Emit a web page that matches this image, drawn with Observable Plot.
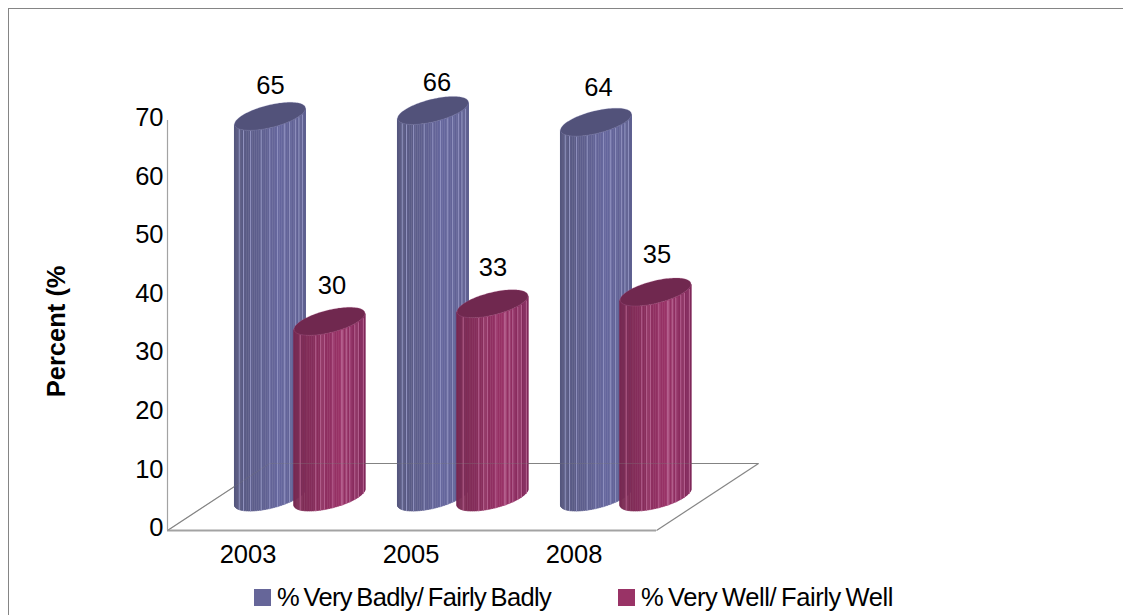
<!DOCTYPE html>
<html><head><meta charset="utf-8">
<script src="https://cdn.jsdelivr.net/npm/d3@7"></script>
<script src="https://cdn.jsdelivr.net/npm/@observablehq/plot@0.6"></script>
<style>
html,body{margin:0;padding:0;background:#fff;overflow:hidden;width:1123px;height:615px}
#wrap{position:relative;width:1123px;height:615px;overflow:hidden;font-family:"Liberation Sans",Arial,sans-serif}
#frame{position:absolute;left:8px;top:8px;width:1200px;height:700px;border:1.5px solid #858585}
#chart{position:absolute;left:0;top:0}
#chart svg{display:block;background:transparent}
#legend{position:absolute;left:0;top:582px;height:30px;width:1123px;font-size:25.5px;letter-spacing:-.65px;word-spacing:-2px;color:#000}
.key{position:absolute;top:0;display:flex;align-items:center;height:30px;white-space:pre}
.sw{width:17px;height:17px;margin-right:6px;display:inline-block}
</style></head>
<body><div id="wrap"><div id="frame"></div><div id="chart"></div><div id="legend"></div></div>
<script>
const years = ["2003", "2005", "2008"];
const seriesNames = ["% Very Badly/ Fairly Badly", "% Very Well/ Fairly Well"];
const veryBadly = [65, 66, 64];
const veryWell = [30, 33, 35];
const yTicks = [0, 10, 20, 30, 40, 50, 60, 70];
const axisTitle = "Percent (%";

// layout and styling of the pseudo-3D scene, in scale units (1 x unit = one category)
const pxX = 1 / 163, pxY = 1 / 5.857;
const seriesOffset = [21.5 * pxX, 81 * pxX];
const rx = 35.5 * pxX, ry = 11.5 * pxY, tilt = 8 * pxY, baseLift = 33 * pxY;
const palettes = [
  {left: "#56577e", mid: "#66679e", right: "#5e5f90", top: "#52527a", line: "#9a9bc8"},
  {left: "#782a52", mid: "#993267", right: "#80285a", top: "#70284f", line: "#c0709c"}
];
const lightLines = [
  [.06, .12, .22, .37, .49, .6, .7, .77, .85, .9, .95],
  [.08, .3, .37, .42, .54, .66, .68, .73, .78, .85, .9, .97]
];
// per-label [sideways, lift] in pixels
const labelNudge = [[[0, 31], [2, 36]], [[3.5, 28], [0, 36]], [[2, 35], [1, 38]]];

const SLICES = 48;
const lower = t => Math.sqrt(Math.max(0, 1 - t * t));
const frac2t = f => 2 * f - 1;
const ease = u => (1 - Math.cos(Math.PI * u)) / 2;
function cylinderMarks(cat, s, value) {
  const pal = palettes[s];
  const cx = cat + seriesOffset[s];
  const bottomC = baseLift, topC = baseLift + value;
  const colour = d3.scaleLinear().domain([0, .65, 1]).range([pal.left, pal.mid, pal.right]);
  const slices = [];
  for (let i = 0; i < SLICES; i++) {
    const a = ease(i / SLICES), b = ease((i + 1) / SLICES), id = i;
    for (const f of [a, (a + b) / 2, b]) {
      const t = frac2t(f);
      slices.push({id, x: cx + t * rx, y1: bottomC + tilt * t - ry * lower(t), y2: topC + tilt * t - ry * lower(t), c: colour((a + b) / 2)});
    }
  }
  const rims = [];
  for (let i = 0; i <= 60; i++) {
    const t = Math.cos(Math.PI * (1 - i / 60));
    rims.push({x: cx + t * rx, y1: topC + tilt * t - ry * lower(t), y2: topC + tilt * t + ry * lower(t)});
  }
  const lines = lightLines[s].map(f => {
    const t = frac2t(f);
    return {x: cx + t * rx, y1: bottomC + tilt * t - ry * lower(t), y2: topC + tilt * t - ry * lower(t)};
  });
  return [
    Plot.areaY(slices, {x: "x", y1: "y1", y2: "y2", z: "id", fill: "c", stroke: "c", strokeWidth: .6}),
    Plot.link(lines, {x1: "x", x2: "x", y1: "y1", y2: "y2", stroke: pal.line, strokeWidth: 1, strokeOpacity: .85}),
    Plot.areaY(rims, {x: "x", y1: "y1", y2: "y2", fill: pal.top, stroke: pal.line, strokeWidth: .4, strokeOpacity: .6})
  ];
}

const floorDepth = 67 * pxY, floorSkew = 102 * pxX;
const xLeft = -81.5 * pxX, xRight = 407.5 * pxX;
const floorEdges = [
  {x1: xLeft, y1: 0, x2: xLeft + floorSkew, y2: floorDepth},
  {x1: xLeft + floorSkew, y1: floorDepth, x2: xRight + floorSkew, y2: floorDepth},
  {x1: xRight + floorSkew, y1: floorDepth, x2: xRight, y2: 0}
];

const labelRows = years.flatMap((yr, i) => [veryBadly[i], veryWell[i]].map((v, s) => ({
  x: i + seriesOffset[s] + labelNudge[i][s][0] * pxX,
  y: v + baseLift + labelNudge[i][s][1] * pxY,
  v
})));

const bars = years.flatMap((yr, i) => [
  ...cylinderMarks(i, 0, veryBadly[i]),
  ...cylinderMarks(i, 1, veryWell[i])
]);

const W = 1123, H = 582, ML = 163, MB = 52;
const chart = Plot.plot({
  width: W, height: H,
  marginLeft: ML, marginRight: 0, marginTop: 0, marginBottom: MB,
  x: {domain: [(ML - 248.5) * pxX, (W - 248.5) * pxX], range: [ML, W]},
  y: {domain: [0, (H - MB) * pxY], range: [H - MB, 0]},
  color: {type: "identity"},
  style: {fontFamily: '"Liberation Sans",Arial,sans-serif', fontSize: "25.5px", background: "transparent", overflow: "visible", color: "#000"},
  marks: [
    Plot.link(floorEdges, {x1: "x1", y1: "y1", x2: "x2", y2: "y2", stroke: "#858585", strokeWidth: 1.2}),
    Plot.ruleY([0], {x1: xLeft, x2: xRight, stroke: "#a3a3a3", strokeWidth: 2}),
    Plot.ruleX([xLeft], {y1: 0, y2: 70, stroke: "#a3a3a3", strokeWidth: 1.2}),
    ...bars,
    Plot.link(floorEdges.slice(0, 2), {x1: "x1", y1: "y1", x2: "x2", y2: "y2", stroke: "#808080", strokeWidth: 1, strokeOpacity: .3}),
    Plot.axisY({ticks: yTicks, tickSize: 0, tickPadding: 0, label: null, fontSize: 25.5, dy: -2.5}),
    Plot.axisX({ticks: [0, 1, 2], tickFormat: i => years[i], tickSize: 0, tickPadding: 14, label: null, fontSize: 25.5, dx: -1}),
    Plot.text(labelRows, {x: "x", y: "y", text: d => String(d.v), fontSize: 25.5, fill: "#000"}),
    Plot.text([axisTitle], {x: xLeft - 111 * pxX, y: 34, rotate: -90, fontWeight: "bold", fontSize: 25.5, fill: "#000"})
  ]
});
document.getElementById("chart").append(chart);

// legend under the plot
const legend = document.getElementById("legend");
const keyLeft = [254, 618];
const keySpacing = ["-.65px", "-.4px"];
seriesNames.forEach((n, i) => {
  const k = document.createElement("div"); k.className = "key"; k.style.left = keyLeft[i] + "px";
  k.style.letterSpacing = keySpacing[i];
  const sw = document.createElement("span"); sw.className = "sw"; sw.style.background = ["#666699", "#993366"][i];
  k.append(sw, document.createTextNode(n)); legend.append(k);
});
</script></body></html>
